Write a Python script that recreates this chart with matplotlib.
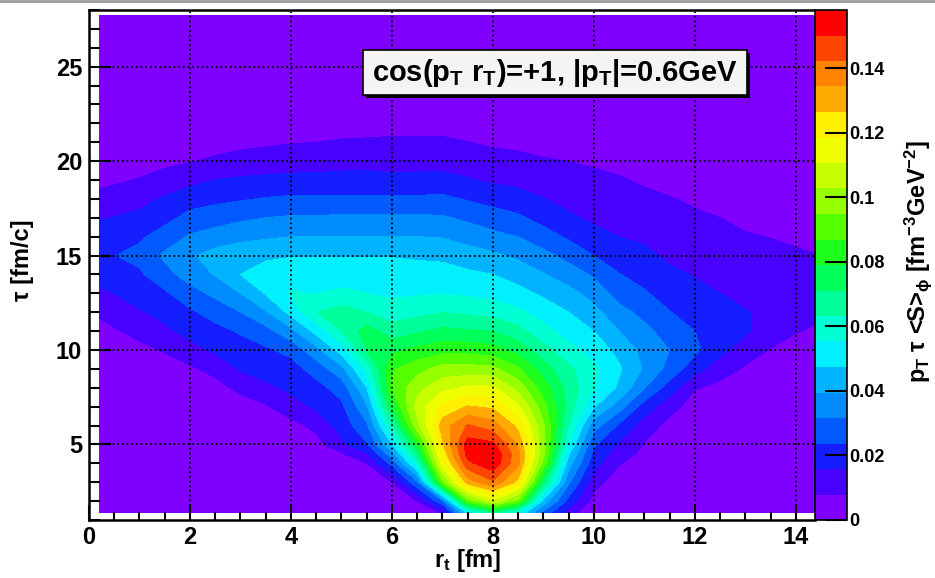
import numpy as np
import matplotlib
matplotlib.use("Agg")
import matplotlib.pyplot as plt
from matplotlib.colors import ListedColormap, BoundaryNorm
from matplotlib.patches import Rectangle
from matplotlib.lines import Line2D

plt.rcParams['font.family'] = ['Liberation Sans', 'DejaVu Sans']
plt.rcParams['font.weight'] = 'bold'
plt.rcParams['mathtext.fontset'] = 'custom'
plt.rcParams['mathtext.rm'] = 'Liberation Sans:bold'
plt.rcParams['mathtext.bf'] = 'Liberation Sans:bold'
plt.rcParams['mathtext.it'] = 'Liberation Sans:bold'
plt.rcParams['mathtext.default'] = 'bf'

# sampling points in transverse radius [fm] and proper time [fm/c]
r_t = [0.2, 1, 1.5, 2, 2.5, 3, 3.5, 4, 4.5, 5, 5.5, 6, 6.5, 7, 7.5, 8, 8.5,
       9, 9.5, 10, 10.5, 11, 11.5, 12, 12.5, 13, 13.5, 14, 14.4]
tau = [1.4, 2, 3, 4, 4.5, 5, 6, 7, 8, 9, 10, 11, 12, 13, 14, 15, 16, 17, 18,
       19, 20, 21, 22, 23, 25, 27.7]

# p_T tau <S>_phi in units of 1e-3 fm^-3 GeV^-2, one list (over tau) per r_t
S_r0p2 = [0, 0, 0, 0, 0, 0, 0, 0, 0.5, 1.5, 3, 5.5, 9, 14, 19, 22, 19.5, 15, 10, 6, 3.5, 2, 1, 0.5, 0, 0]
S_r1 = [0, 0, 0, 0, 0, 0, 0, 0.3, 1, 3, 6, 10, 15, 19, 22.5, 26, 22.5, 18, 13, 8.3, 5, 3, 1.5, 0.8, 0.2, 0]
S_r1p5 = [0, 0, 0, 0, 0, 0, 0, 0.4, 1.5, 4.5, 8.5, 14, 18.5, 22.5, 29, 33, 27, 21.5, 16.8, 10.5, 6.3, 3.8, 2, 1, 0.3, 0]
S_r2 = [0, 0, 0, 0, 0, 0, 0, 0.5, 2.5, 6.5, 13, 18.5, 22.5, 28.5, 35, 38.5, 32.5, 26, 20.5, 13.5, 7.5, 4.5, 2.5, 1.3, 0.3, 0]
S_r2p5 = [0, 0, 0, 0, 0, 0, 0, 1.5, 5, 10.5, 17, 21.5, 26.5, 33.5, 40, 42.5, 35, 28, 21.8, 15.8, 9, 5.3, 3, 1.6, 0.4, 0]
S_r3 = [0, 0, 0, 0, 0, 0, 0.5, 4, 10, 16.5, 20.5, 24.5, 31.5, 39.5, 47.4, 44, 37.5, 30, 23, 17, 10.5, 6, 3.5, 2, 0.5, 0]
S_r3p5 = [0, 0, 0, 0, 0, 0, 1.5, 7, 14, 19, 22.5, 29, 38.5, 48, 52, 45.5, 38.5, 31.6, 24.2, 17.5, 11.3, 6.8, 4, 2.2, 0.6, 0]
S_r4 = [0, 0, 0, 0, 0, 1.5, 5.5, 12.5, 17.5, 20.5, 26, 37, 50, 56, 51.5, 47, 39.5, 32.5, 25, 18, 12, 7.5, 4.5, 2.5, 0.7, 0]
S_r4p5 = [0, 0, 0, 0, 1, 5, 10, 17, 21, 27, 37, 50, 63, 55, 51, 47, 39.5, 32.5, 25, 18, 12.3, 7.9, 4.8, 2.8, 0.8, 0]
S_r5 = [0, 0, 0, 2, 7, 14, 19, 22, 27, 37, 51, 63.2, 67, 57, 51.5, 47, 39.5, 33, 25, 18.5, 12.8, 8.5, 5, 3, 0.8, 0]
S_r5p5 = [0, 0, 0, 8, 15, 23, 30, 38, 47, 58, 71, 75, 63.2, 55.3, 51, 47, 39.5, 33, 25, 18.5, 13, 8.7, 5.2, 3.2, 0.9, 0]
S_r6 = [0, 1, 8, 26, 36, 47, 63, 78, 88, 86, 77, 67, 59, 54, 50.5, 47, 39.5, 33, 25, 18, 12.5, 9, 5.5, 3.5, 1, 0]
S_r6p5 = [1, 8, 30, 58, 70, 80, 100, 106, 100, 92, 81, 70, 61, 54.5, 50, 46.5, 39.5, 33, 25, 18, 12.8, 9, 5.5, 3.5, 1, 0]
S_r7 = [9, 30, 92, 115, 121, 125, 130, 121, 108, 98, 84, 73, 63, 55, 50, 46, 39, 32.5, 25.5, 18, 13, 9, 5.5, 3.5, 1, 0]
S_r7p5 = [50, 90, 130, 148, 153, 154, 143, 127, 112, 98, 84, 72, 62, 54, 49, 43, 36.5, 30, 23, 16.5, 11.5, 8, 5, 3.2, 0.9, 0]
S_r8 = [70, 108, 141, 156, 157, 152, 138, 125, 112, 97, 82, 71, 60, 53, 47.4, 41, 34, 27, 21, 14.5, 10, 7, 4.5, 3, 0.8, 0]
S_r8p5 = [55, 92, 124, 136, 137, 133, 124, 112, 100, 88, 76, 66, 57, 50, 44, 38, 31.5, 25, 19, 13.5, 9.5, 6.5, 4, 2.5, 0.7, 0]
S_r9 = [30, 45, 72, 92, 97, 98, 96, 90, 83, 75, 66, 58, 52, 46, 40, 34, 27, 21, 16, 12, 8.5, 5.5, 3.5, 2, 0.5, 0]
S_r9p5 = [12, 21, 33, 43, 48, 55.3, 63, 68, 68, 65, 58, 52, 47.4, 42, 35.5, 29, 22.5, 17, 13.5, 10.5, 7.9, 5, 3, 1.8, 0.4, 0]
S_r10 = [1, 5, 11, 19, 21.5, 25, 35, 48, 56, 57, 52, 47.4, 42, 36.5, 30.5, 23.7, 18, 14.5, 12, 9.5, 7, 4.5, 2.8, 1.5, 0.3, 0]
S_r10p5 = [0, 0.5, 3.5, 8.5, 11.5, 15, 22.5, 35, 46, 48.5, 45, 39.5, 34, 28.5, 24, 20, 15.8, 13.5, 11, 8.5, 6, 4, 2.3, 1.2, 0.2, 0]
S_r11 = [0, 0, 1, 4, 6, 7.5, 12, 20, 32, 38.5, 37, 33.5, 29.5, 24.5, 21, 17.5, 14.5, 12, 9.5, 7, 4.5, 2.8, 1.5, 0.8, 0.1, 0]
S_r11p5 = [0, 0, 0, 0, 0.5, 2, 5.5, 11, 20, 29, 31.5, 28.5, 24, 20.5, 17, 14.5, 12.5, 10.5, 8.2, 6, 4, 2.5, 1.3, 0.6, 0.1, 0]
S_r12 = [0, 0, 0, 0, 0, 0, 1, 4, 8.5, 19, 25.5, 23.7, 20, 17, 15.5, 13, 11, 8.8, 7, 5, 3.3, 2, 1, 0.5, 0, 0]
S_r12p5 = [0, 0, 0, 0, 0, 0, 0.5, 2.5, 6, 11, 18.5, 21, 18.5, 15.8, 13, 11, 9.6, 7.9, 6.2, 4.5, 3, 1.8, 0.9, 0.4, 0, 0]
S_r13 = [0, 0, 0, 0, 0, 0, 0, 1.5, 4, 7, 11.5, 17, 16.5, 12.5, 11, 9.7, 8.3, 6.8, 5.3, 3.9, 2.6, 1.5, 0.8, 0.4, 0, 0]
S_r13p5 = [0, 0, 0, 0, 0, 0, 0, 0.8, 2.5, 5, 7.5, 11.5, 13, 11.5, 10, 9, 7.8, 6.4, 5, 3.7, 2.5, 1.5, 0.7, 0.3, 0, 0]
S_r14 = [0, 0, 0, 0, 0, 0, 0, 0.5, 1.5, 3.5, 5.5, 8.2, 10, 10, 9.2, 8.5, 7.2, 6, 4.7, 3.5, 2.3, 1.4, 0.7, 0.3, 0, 0]
S_r14p4 = [0, 0, 0, 0, 0, 0, 0, 0, 1, 3, 5, 7.2, 9, 9.2, 8.6, 8, 6.8, 5.7, 4.5, 3.3, 2.2, 1.3, 0.6, 0.3, 0, 0]

columns = [S_r0p2, S_r1, S_r1p5, S_r2, S_r2p5, S_r3, S_r3p5, S_r4, S_r4p5,
           S_r5, S_r5p5, S_r6, S_r6p5, S_r7, S_r7p5, S_r8, S_r8p5, S_r9,
           S_r9p5, S_r10, S_r10p5, S_r11, S_r11p5, S_r12, S_r12p5, S_r13,
           S_r13p5, S_r14, S_r14p4]
S = np.array(columns, dtype=float).T * 1e-3

z_max = 0.158
n_levels = 20
cbar_ticks = [0, 0.02, 0.04, 0.06, 0.08, 0.10, 0.12, 0.14]
cbar_ticklabels = ['0', '0.02', '0.04', '0.06', '0.08', '0.1', '0.12', '0.14']

palette = ['#7f00ff', '#4800ff', '#141eff', '#005aff', '#008cff', '#00b4ff',
           '#00f0ff', '#00ffd2', '#00ff9b', '#00ff5a', '#1eff1e', '#55ff00',
           '#96ff00', '#c8ff00', '#f0ff00', '#fff000', '#ffaa00', '#ff8200',
           '#ff4600', '#ff0000']

W, H = 935, 578
fig = plt.figure(figsize=(W / 100, H / 100), dpi=100)
fig.patch.set_facecolor('white')

def fx(px):
    return px / W

def fy(py):
    return 1 - py / H

ax_l, ax_r, ax_t, ax_b = 89, 815, 10, 520
ax = fig.add_axes([fx(ax_l), fy(ax_b), fx(ax_r) - fx(ax_l), fy(ax_t) - fy(ax_b)])

levels = np.linspace(0, z_max, n_levels + 1)
cmap = ListedColormap(palette)
norm = BoundaryNorm(levels, cmap.N)
cs = ax.contourf(r_t, tau, S, levels=levels, cmap=cmap, norm=norm, zorder=0)

ax.set_xlim(0, 14.38)
ax.set_ylim(1, 28)
ax.set_xticks(np.arange(0, 15, 2))
ax.set_xticks(np.arange(0, 14.4, 0.5), minor=True)
ax.set_yticks(np.arange(5, 26, 5))
ax.set_yticks(np.arange(1, 28.01, 1), minor=True)
ax.tick_params(axis='both', which='both', direction='in', top=False, right=False,
               width=1.5, labelsize=17, colors='black')
ax.tick_params(axis='x', which='major', length=11, pad=4)
ax.tick_params(axis='x', which='minor', length=6)
ax.tick_params(axis='y', which='major', length=16, pad=5)
ax.tick_params(axis='y', which='minor', length=8)
for lab in ax.get_xticklabels() + ax.get_yticklabels():
    lab.set_fontweight('bold')

ax.set_axisbelow(False)
ax.grid(True, which='major', color='black', linestyle=(0, (1, 1.6)), linewidth=1.3)
for side in ['left', 'bottom', 'top']:
    ax.spines[side].set_linewidth(1.8)
ax.spines['right'].set_visible(False)

# colour scale
cax = fig.add_axes([fx(815), fy(ax_b), fx(847) - fx(815), fy(ax_t) - fy(ax_b)])
cb = fig.colorbar(cs, cax=cax, ticks=cbar_ticks)
cb.set_ticklabels(cbar_ticklabels)
cb.outline.set_linewidth(1.2)
cax.tick_params(direction='in', length=16, width=1.5, pad=1.5, labelsize=13)
for lab in cax.get_yticklabels():
    lab.set_fontweight('bold')
cax.minorticks_off()

# axis titles
fig.text(fx(468), fy(560), r'r$_{t}$ [fm]', fontsize=17, fontweight='bold',
         ha='center', va='center')
fig.text(fx(22), fy(260), 'τ [fm/c]', fontsize=17, fontweight='bold',
         ha='center', va='center', rotation=90)
fig.text(fx(918), fy(262), r'p$_{T}$ τ <S>$_{\phi}$ [fm$^{-3}$GeV$^{-2}$]',
         fontsize=17, fontweight='bold', ha='center', va='center', rotation=90)

# label box with drop shadow
bx0, bx1, by0, by1 = 363, 747, 50, 95
fig.patches.append(Rectangle((fx(bx0 + 3), fy(by1 + 3)), fx(bx1) - fx(bx0),
                             fy(by0) - fy(by1), transform=fig.transFigure,
                             facecolor='black', edgecolor='none', zorder=5))
fig.patches.append(Rectangle((fx(bx0), fy(by1)), fx(bx1) - fx(bx0),
                             fy(by0) - fy(by1), transform=fig.transFigure,
                             facecolor='#f4f4f4', edgecolor='black', linewidth=1.2,
                             zorder=6))
fig.text(fx((bx0 + bx1) / 2), fy(73), r'cos(p$_{T}$ r$_{T}$)=+1, |p$_{T}$|=0.6GeV',
         fontsize=21, fontweight='bold', ha='center', va='center', zorder=7)

# thin grey rule along the top edge
fig.lines.append(Line2D([0, 1], [fy(1), fy(1)], transform=fig.transFigure,
                        color='#9a9a9a', linewidth=2))

fig.savefig('out.png', dpi=100)
